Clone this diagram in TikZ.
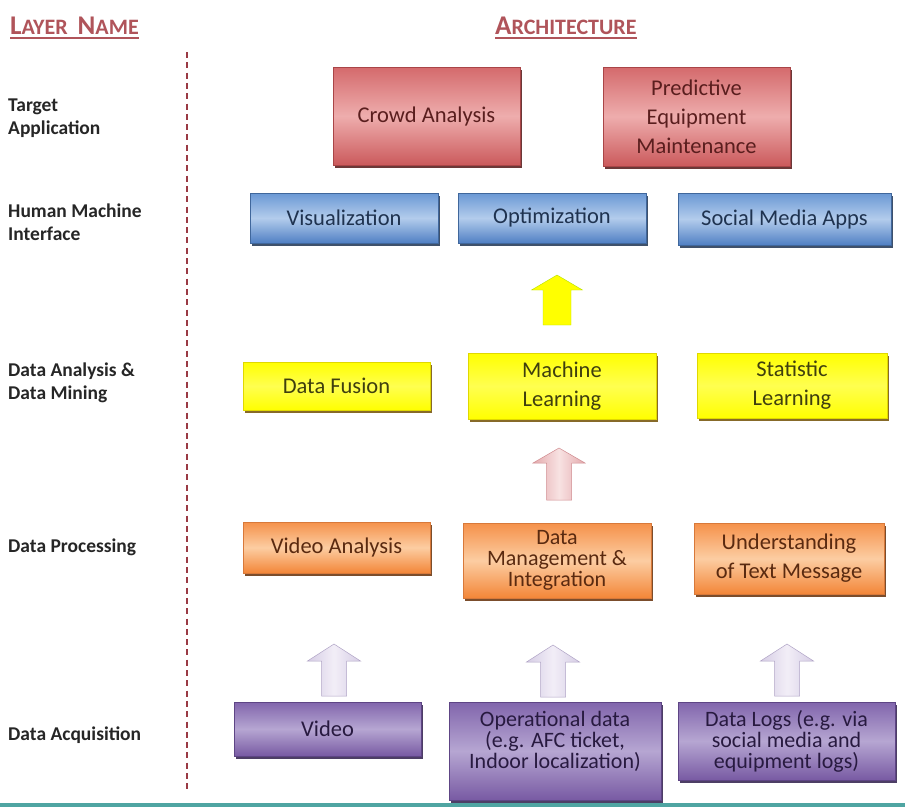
\documentclass[tikz,border=0pt]{standalone}
\usepackage{fontspec}
\setmainfont{Carlito}
\usetikzlibrary{shadows}
\definecolor{redTop}{HTML}{D46A6C}
\definecolor{redMid}{HTML}{EEADAD}
\definecolor{redBot}{HTML}{CB5A5C}
\definecolor{redLine}{HTML}{A94547}
\definecolor{redShadow}{HTML}{5B2323}
\definecolor{redText}{HTML}{5A1E1E}
\definecolor{bluTop}{HTML}{6A98D4}
\definecolor{bluMid}{HTML}{B3CCEC}
\definecolor{bluBot}{HTML}{5080C4}
\definecolor{bluLine}{HTML}{40679C}
\definecolor{bluShadow}{HTML}{2B3F5C}
\definecolor{bluText}{HTML}{1F3350}
\definecolor{yelFill}{HTML}{FFFF00}
\definecolor{yelMid}{HTML}{FFFF50}
\definecolor{yelLine}{HTML}{E0D800}
\definecolor{yelShadow}{HTML}{7A5A12}
\definecolor{yelText}{HTML}{3F3F0E}
\definecolor{orTop}{HTML}{F5914A}
\definecolor{orMid}{HTML}{FCCDA2}
\definecolor{orBot}{HTML}{F38638}
\definecolor{orLine}{HTML}{D8793A}
\definecolor{orShadow}{HTML}{6D3A16}
\definecolor{orText}{HTML}{5A2A10}
\definecolor{puTop}{HTML}{8165AC}
\definecolor{puMid}{HTML}{B6A6D2}
\definecolor{puBot}{HTML}{785AA3}
\definecolor{puLine}{HTML}{5E4585}
\definecolor{puShadow}{HTML}{3A2A55}
\definecolor{puText}{HTML}{281A40}
\definecolor{hdrRed}{HTML}{B0545A}
\definecolor{dashRed}{HTML}{9A3A44}
\definecolor{tealLine}{HTML}{4FA5A2}
\definecolor{pinkA}{HTML}{E4AAAD}
\definecolor{pinkB}{HTML}{F8E2E2}
\definecolor{pinkLine}{HTML}{D08C90}
\definecolor{lavA}{HTML}{D6CDE5}
\definecolor{lavB}{HTML}{F2EEF7}
\definecolor{lavLine}{HTML}{B0A4C6}
\newcommand\fakesc[2]{{\fontsize{27}{27}\selectfont #1}{\fontsize{22}{22}\selectfont #2}}
\newcommand\blockup[7]{\path[#7] ({#1-#4/2},{#2+#6}) -- (#1,#2) -- ({#1+#4/2},{#2+#6}) -- ({#1+#5/2},{#2+#6}) -- ({#1+#5/2},#3) -- ({#1-#5/2},#3) -- ({#1-#5/2},{#2+#6}) -- cycle;}
\begin{document}
\begin{tikzpicture}[x=1pt,y=-1pt,
  basebox/.style={rectangle, line width=0.6pt, inner sep=2pt, align=center,
     font=\fontsize{22.5}{29}\selectfont},
  redbox/.style={basebox, draw=redLine, top color=redTop, bottom color=redBot, middle color=redMid,
     text=redText, drop shadow={shadow xshift=1.5pt, shadow yshift=-3pt, fill=redShadow, opacity=0.9}},
  blubox/.style={basebox, draw=bluLine, top color=bluTop, bottom color=bluBot, middle color=bluMid,
     text=bluText, drop shadow={shadow xshift=1.5pt, shadow yshift=-3pt, fill=bluShadow, opacity=0.9}},
  yelbox/.style={basebox, draw=yelLine, top color=yelFill, bottom color=yelFill, middle color=yelMid,
     text=yelText, drop shadow={shadow xshift=1.5pt, shadow yshift=-3pt, fill=yelShadow, opacity=0.9}},
  orbox/.style={basebox, draw=orLine, top color=orTop, bottom color=orBot, middle color=orMid,
     text=orText, drop shadow={shadow xshift=1.5pt, shadow yshift=-3pt, fill=orShadow, opacity=0.9}},
  pubox/.style={basebox, draw=puLine, top color=puTop, bottom color=puBot, middle color=puMid,
     text=puText, drop shadow={shadow xshift=1.5pt, shadow yshift=-3pt, fill=puShadow, opacity=0.9}},
  tight/.style={font=\fontsize{22}{21}\selectfont},
  layer/.style={anchor=west, align=left, inner sep=0pt, text=black!85,
     font=\bfseries\fontsize{19.5}{23}\selectfont},
  hdr/.style={anchor=west, inner sep=0pt, text=hdrRed, font=\bfseries},
  yarrow/.style={fill=yelFill, draw=yelLine!80!green, line width=0.4pt},
  parrow/.style={left color=pinkA, right color=pinkA, middle color=pinkB, draw=pinkLine, line width=0.5pt},
  larrow/.style={left color=lavA, right color=lavA, middle color=lavB, draw=lavLine, line width=0.5pt}
]
\useasboundingbox (0,0) rectangle (905,807);
\fill[white] (0,0) rectangle (905,807);

% headers
\node[hdr] (hname) at (10,26) {\fakesc{L}{AYER}\hspace{10pt}\fakesc{N}{AME}};
\node[hdr] (harch) at (495,26) {\fakesc{A}{RCHITECTURE}};
\draw[hdrRed, line width=1.3pt] (hname.west |- 0,38) -- (hname.east |- 0,38);
\draw[hdrRed, line width=1.3pt] (harch.west |- 0,38) -- (harch.east |- 0,38);

% dashed divider
\draw[dashRed, line width=2.2pt, dash pattern=on 6pt off 4.3pt] (187,52) -- (187,790);

% layer names
\node[layer] (l1) at (8,118.5) {Target\\Application};
\node[layer] (l2) at (8,222.5) {Human Machine\\Interface};
\node[layer] (l3) at (8,383) {Data Analysis \&\\Data Mining};
\node[layer] (l4) at (8,547) {Data Processing};
\node[layer] (l5) at (8,735) {Data Acquisition};

% target application
\node[redbox, minimum width=187pt, minimum height=98pt] (crowd) at (426.5,116) {Crowd Analysis};
\node[redbox, minimum width=187pt, minimum height=99pt] (pred) at (696.5,116.5) {Predictive\\Equipment\\Maintenance};

% HMI
\node[blubox, minimum width=188pt, minimum height=50pt] (vis) at (344,218) {Visualization};
\node[blubox, minimum width=188pt, minimum height=50pt] (opt) at (552,218) {Optimization};
\node[blubox, minimum width=213pt, minimum height=52pt] (soc) at (784.5,219) {Social Media Apps};

% data analysis
\node[yelbox, minimum width=187pt, minimum height=48pt] (fusion) at (336.5,386) {Data Fusion};
\node[yelbox, minimum width=188pt, minimum height=66pt] (ml) at (562,386) {Machine\\Learning};
\node[yelbox, minimum width=190pt, minimum height=65pt] (stat) at (792,385.5) {Statistic\\Learning};

% data processing
\node[orbox, minimum width=187pt, minimum height=51pt] (va) at (336.5,547.5) {Video Analysis};
\node[orbox, tight, minimum width=188pt, minimum height=75pt] (dm) at (557,560.5) {Data\\Management \&\\Integration};
\node[orbox, minimum width=190pt, minimum height=71pt] (und) at (789,558.5) {Understanding\\of Text Message};

% data acquisition
\node[pubox, minimum width=187pt, minimum height=54pt] (video) at (327.5,729) {Video};
\node[pubox, minimum width=212pt, minimum height=98pt] (oper) at (555,751) {};
\node[tight, align=center, text=puText, inner sep=0pt] (opertext) at (555,741) {Operational data\\(e.g. AFC ticket,\\Indoor localization)};
\node[pubox, tight, minimum width=217pt, minimum height=78pt] (logs) at (786.5,741) {Data Logs (e.g. via\\social media and\\equipment logs)};

% block arrows
\blockup{557}{275}{325}{51}{28}{15}{yarrow}
\blockup{559}{448}{500}{52}{25}{15}{parrow}
\blockup{334}{644}{696}{53}{25}{17}{larrow}
\blockup{553}{645}{697}{53}{25}{17}{larrow}
\blockup{787}{644}{696}{53}{25}{17}{larrow}

% bottom rule
\fill[tealLine] (0,803) rectangle (905,807);
\end{tikzpicture}
\end{document}
